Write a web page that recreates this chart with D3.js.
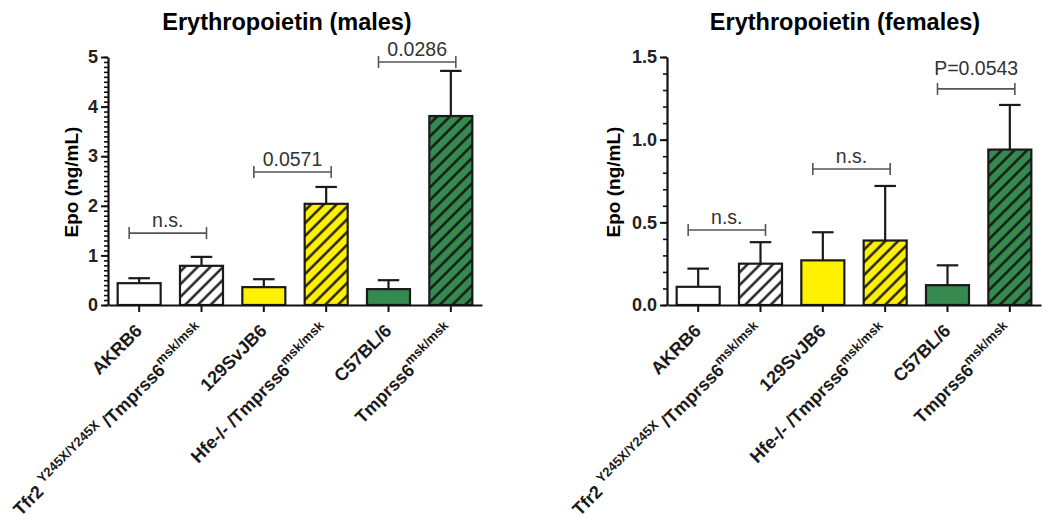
<!DOCTYPE html>
<html>
<head>
<meta charset="utf-8">
<script src="https://cdn.jsdelivr.net/npm/d3@7"></script>
<style>
  body { margin: 0; background: #fff; }
  svg text { font-family: Arial, "Liberation Sans", sans-serif; }
</style>
</head>
<body>
<svg id="chart" width="1050" height="527"></svg>
<script>

// Data
var groupLabels = [
    [["AKRB6", 0]],
    [["Tfr2 ", 0], ["Y245X/Y245X", 1], [" /Tmprss6", 0], ["msk/msk", 1]],
    [["129SvJB6", 0]],
    [["Hfe-/- /Tmprss6", 0], ["msk/msk", 1]],
    [["C57BL/6", 0]],
    [["Tmprss6", 0], ["msk/msk", 1]]
];
var groupColors = ["#ffffff", "#ffffff", "#fff100", "#fff100", "#36894f", "#36894f"];
var groupHatched = [false, true, false, true, false, true];

var malesMean = [0.44, 0.79, 0.36, 2.04, 0.32, 3.81];
var malesErr  = [0.10, 0.18, 0.16, 0.34, 0.18, 0.91];
var malesBrackets = [
    { from: 0, to: 1, y: 1.45, label: "n.s." },
    { from: 2, to: 3, y: 2.68, label: "0.0571" },
    { from: 4, to: 5, y: 4.90, label: "0.0286" }
];

var femalesMean = [0.11, 0.25, 0.27, 0.39, 0.12, 0.94];
var femalesErr  = [0.11, 0.13, 0.17, 0.33, 0.12, 0.27];
var femalesBrackets = [
    { from: 0, to: 1, y: 0.454, label: "n.s." },
    { from: 2, to: 3, y: 0.823, label: "n.s." },
    { from: 4, to: 5, y: 1.307, label: "P=0.0543" }
];

var svg = d3.select("#chart");

// hatch pattern for the knockout bars
svg.append("defs").append("pattern")
    .attr("id", "hatch")
    .attr("patternUnits", "userSpaceOnUse")
    .attr("width", 9).attr("height", 9)
    .attr("patternTransform", "rotate(45)")
  .append("line")
    .attr("x1", 4.5).attr("y1", -1).attr("x2", 4.5).attr("y2", 10)
    .attr("stroke", "#111").attr("stroke-width", 2.3);


function drawPanel(p) {
    var g = svg.append("g");
    var n = groupLabels.length;

    var x = d3.scaleBand().domain(d3.range(n))
        .range([p.left, p.right])
        .paddingInner(0.31).paddingOuter(0.155);
    var y = d3.scaleLinear().domain([0, p.yMax]).range([305, 57]);
    var bw = x.bandwidth();

    // title
    g.append("text")
        .attr("x", p.titleX).attr("y", 30)
        .attr("text-anchor", "middle")
        .style("font-size", "23.5px").style("font-weight", "bold")
        .text(p.title);

    // y label
    g.append("text")
        .attr("transform", "translate(" + p.yLabelX + ",182) rotate(-90)")
        .attr("text-anchor", "middle")
        .style("font-size", "19px").style("font-weight", "bold")
        .text("Epo (ng/mL)");

    // minor ticks
    var minor = g.append("g")
        .attr("transform", "translate(" + p.left + ",0)")
        .call(d3.axisLeft(y).tickValues(d3.range(0, p.yMax + 1e-6, 0.1)).tickSize(4).tickSizeOuter(0).tickFormat(""));
    minor.select(".domain").remove();
    minor.selectAll("line").attr("stroke", "#111").attr("stroke-width", 1.6);

    // major ticks
    var yAxis = g.append("g")
        .attr("transform", "translate(" + p.left + ",0)")
        .call(d3.axisLeft(y).tickValues(p.yTicks).tickSize(7).tickSizeOuter(0).tickFormat(d3.format(p.yFormat)));
    yAxis.selectAll("line").attr("stroke", "#111").attr("stroke-width", 2);
    yAxis.select(".domain").attr("stroke", "#111").attr("stroke-width", 2.2);
    yAxis.selectAll("text")
        .style("font-size", "18px").style("font-weight", "bold").attr("fill", "#222");

    // error bars (upper only)
    var eb = g.selectAll(".err").data(p.mean).enter().append("g");
    eb.append("line")
        .attr("x1", function(d, i){ return x(i) + bw / 2; })
        .attr("x2", function(d, i){ return x(i) + bw / 2; })
        .attr("y1", function(d){ return y(d); })
        .attr("y2", function(d, i){ return y(d + p.err[i]); })
        .attr("stroke", "#1a1a1a").attr("stroke-width", 2.2);
    eb.append("line")
        .attr("x1", function(d, i){ return x(i) + bw / 4; })
        .attr("x2", function(d, i){ return x(i) + bw * 3 / 4; })
        .attr("y1", function(d, i){ return y(d + p.err[i]); })
        .attr("y2", function(d, i){ return y(d + p.err[i]); })
        .attr("stroke", "#1a1a1a").attr("stroke-width", 2.2);

    // bars
    var bars = g.selectAll(".bar").data(p.mean).enter().append("g");
    bars.append("rect")
        .attr("x", function(d, i){ return x(i); })
        .attr("y", function(d){ return y(d); })
        .attr("width", bw)
        .attr("height", function(d){ return y(0) - y(d); })
        .attr("fill", function(d, i){ return groupColors[i]; });
    bars.filter(function(d, i){ return groupHatched[i]; })
      .append("rect")
        .attr("x", function(d){ return x(p.mean.indexOf(d)); })
        .attr("y", function(d){ return y(d); })
        .attr("width", bw)
        .attr("height", function(d){ return y(0) - y(d); })
        .attr("fill", "url(#hatch)");
    bars.append("rect")
        .attr("x", function(d, i){ return x(i); })
        .attr("y", function(d){ return y(d); })
        .attr("width", bw)
        .attr("height", function(d){ return y(0) - y(d); })
        .attr("fill", "none")
        .attr("stroke", "#1a1a1a").attr("stroke-width", 2.2);

    // x axis
    var xAxis = g.append("g")
        .attr("transform", "translate(0," + y(0) + ")")
        .call(d3.axisBottom(x).tickSize(7).tickSizeOuter(0).tickFormat(""));
    xAxis.select(".domain").attr("stroke", "#111").attr("stroke-width", 2.2);
    xAxis.selectAll("line").attr("stroke", "#111").attr("stroke-width", 2);

    // rotated group labels with superscripts
    groupLabels.forEach(function(parts, i) {
        var t = g.append("text")
            .attr("transform", "translate(" + (x(i) + bw / 2 + 4) + ",332) rotate(-45)")
            .attr("text-anchor", "end")
            .style("font-size", "18px").style("font-weight", "bold")
            .attr("fill", "#1a1a1a");
        var raised = false;
        parts.forEach(function(part) {
            var sup = part[1] === 1;
            var ts = t.append("tspan").text(part[0]);
            if (sup) ts.style("font-size", "13px");
            if (sup && !raised) { ts.attr("dy", -8); raised = true; }
            else if (!sup && raised) { ts.attr("dy", 8); raised = false; }
        });
    });

    // significance brackets
    p.brackets.forEach(function(b) {
        var x1 = x(b.from) + bw / 2 - 10,
            x2 = x(b.to) + bw / 2 + 5,
            yy = y(b.y);
        var bg = g.append("g").attr("stroke", "#555").attr("stroke-width", 1.6);
        bg.append("line").attr("x1", x1).attr("x2", x2).attr("y1", yy).attr("y2", yy);
        bg.append("line").attr("x1", x1).attr("x2", x1).attr("y1", yy - 6).attr("y2", yy + 6);
        bg.append("line").attr("x1", x2).attr("x2", x2).attr("y1", yy - 6).attr("y2", yy + 6);
        g.append("text")
            .attr("x", (x1 + x2) / 2)
            .attr("y", yy - (b.label.charAt(0) === "P" ? 14 : 6))
            .attr("text-anchor", "middle")
            .style("font-size", "19.5px")
            .attr("fill", "#333")
            .text(b.label);
    });
}


drawPanel({
    title: "Erythropoietin (males)", titleX: 287,
    left: 108, right: 482, yLabelX: 78,
    yMax: 5, yTicks: [0, 1, 2, 3, 4, 5], yFormat: "d",
    mean: malesMean, err: malesErr, brackets: malesBrackets
});

drawPanel({
    title: "Erythropoietin (females)", titleX: 845,
    left: 667, right: 1041, yLabelX: 620,
    yMax: 1.5, yTicks: [0, 0.5, 1, 1.5], yFormat: ".1f",
    mean: femalesMean, err: femalesErr, brackets: femalesBrackets
});

</script>
</body>
</html>
